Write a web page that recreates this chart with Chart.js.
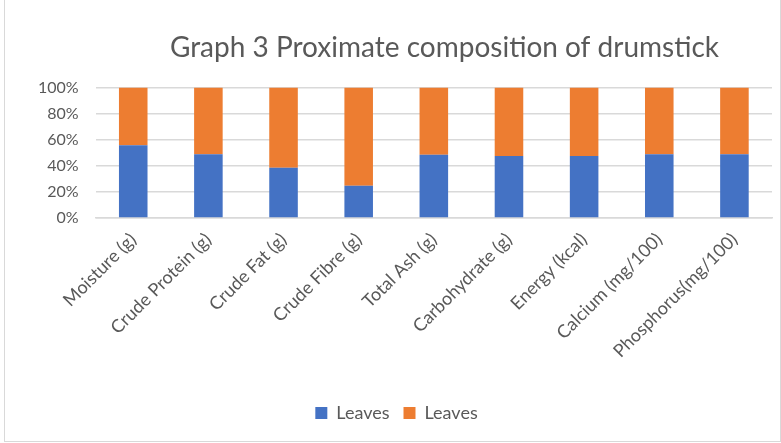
<!DOCTYPE html>
<html>
<head>
<meta charset="utf-8">
<script src="https://cdn.jsdelivr.net/npm/chart.js@4"></script>
<style>
  html, body { margin: 0; padding: 0; background: #fff; }
  #wrap { position: relative; width: 775px; height: 441px; margin-left: 4px; border: 1px solid #d9d9d9; border-top: none; }
</style>
</head>
<body>
<div id="wrap"><canvas id="chart"></canvas></div>
<script>
const categories = ['Moisture (g)', 'Crude Protein (g)', 'Crude Fat (g)', 'Crude Fibre (g)', 'Total Ash (g)',
    'Carbohydrate (g)', 'Energy (kcal)', 'Calcium (mg/100)', 'Phosphorus(mg/100)'];
// share of each nutrient, in percent (100% stacked)
const leavesA = [55.7, 48.8, 38.5, 24.6, 48.5, 47.5, 47.5, 48.8, 48.8];
const leavesB = leavesA.map(v => 100 - v);
const yTicks = [0, 20, 40, 60, 80, 100];

const font = 'Lato, "Open Sans", sans-serif';
const grey = '#595959';

// the title sits a bit right of centre in the original
const shiftTitle = {
    id: 'shiftTitle',
    afterLayout(chart) {
        if (chart.titleBlock) chart.titleBlock.left += 96;
    }
};

const ctx = document.getElementById('chart').getContext('2d');
new Chart(ctx, {
    type: 'bar',
    data: {
        labels: categories,
        datasets: [{
            label: 'Leaves',
            data: leavesA,
            backgroundColor: '#4472c4',
            barPercentage: 0.76,
            categoryPercentage: 0.5
        }, {
            label: 'Leaves',
            data: leavesB,
            backgroundColor: '#ed7d31',
            barPercentage: 0.76,
            categoryPercentage: 0.5
        }]
    },
    options: {
        responsive: true,
        maintainAspectRatio: false,
        animation: false,
        layout: { padding: { left: 16, right: 8, top: 16, bottom: 9 } },
        plugins: {
            title: {
                display: true,
                text: 'Graph 3 Proximate composition of drumstick',
                color: grey,
                font: { family: font, size: 28, weight: 'normal' },
                padding: { top: 15, bottom: 23 }
            },
            legend: {
                position: 'bottom',
                labels: {
                    color: grey,
                    font: { family: font, size: 18 },
                    boxWidth: 12,
                    boxHeight: 12,
                    padding: 14
                }
            },
            tooltip: { enabled: false }
        },
        scales: {
            x: {
                stacked: true,
                grid: { display: false },
                border: { color: '#d9d9d9', width: 1.5 },
                afterFit: scale => { scale.height += 25; },
                ticks: {
                    color: grey,
                    font: { family: font, size: 18 },
                    maxRotation: 45,
                    minRotation: 45,
                    autoSkip: false
                }
            },
            y: {
                stacked: true,
                min: 0,
                max: 100,
                afterBuildTicks: axis => { axis.ticks = yTicks.map(v => ({ value: v })); },
                grid: { color: '#d9d9d9', lineWidth: 1.5, drawTicks: false },
                border: { display: false },
                ticks: {
                    color: grey,
                    font: { family: font, size: 16 },
                    padding: 17,
                    callback: v => v + '%'
                }
            }
        }
    },
    plugins: [shiftTitle]
});
</script>
</body>
</html>
